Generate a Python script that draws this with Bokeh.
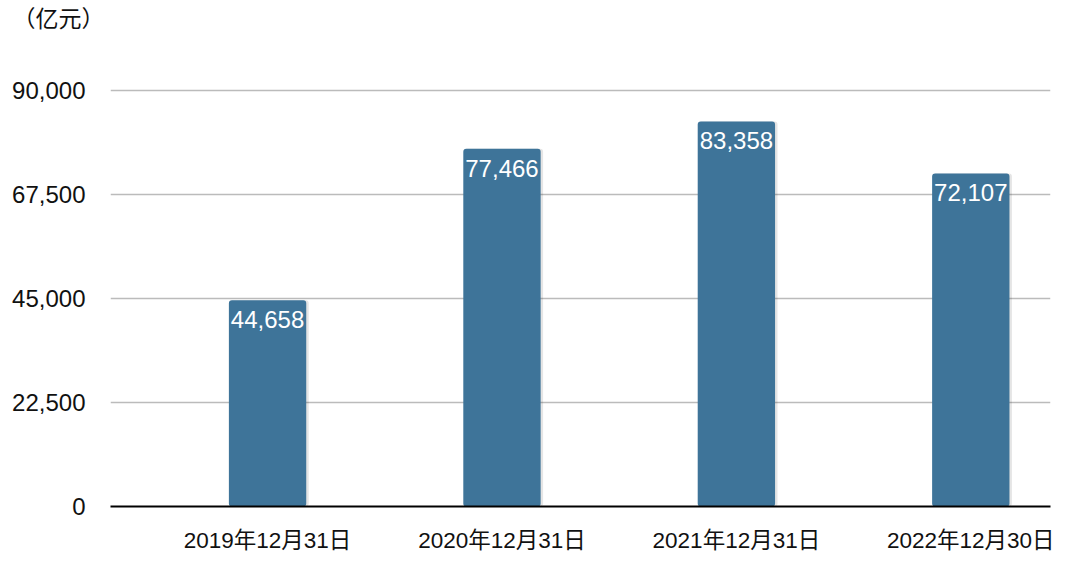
from bokeh.plotting import figure
from bokeh.models import ColumnDataSource, Range1d, FixedTicker, NumeralTickFormatter, Title
from bokeh.core.properties import value
from bokeh.embed import file_html
from bokeh.resources import INLINE

categories = ["2019年12月31日", "2020年12月31日", "2021年12月31日", "2022年12月30日"]
values = [44658, 77466, 83358, 72107]
labels = ["44,658", "77,466", "83,358", "72,107"]
y_ticks = [0, 22500, 45000, 67500, 90000]
unit_label = "（亿元）"

# category slots on a numeric axis (slot centre = index + 0.5)
xpos = [i + 0.5 for i in range(len(categories))]

src = ColumnDataSource(dict(x=xpos, val=values, lab=labels))
shadow_src = ColumnDataSource(dict(x=[v + 0.008 for v in xpos], val=values))

p = figure(
    width=1080, height=565, title=None,
    x_range=Range1d(-0.17, 3.84),
    y_range=Range1d(0, 92000),
    output_backend="svg", toolbar_location=None,
    min_border_left=110, min_border_right=30, min_border_top=81, min_border_bottom=59,
)
p.outline_line_color = None
p.background_fill_color = "white"
p.border_fill_color = "white"

# spacer (nearest the frame), then the unit caption above it
p.add_layout(Title(text=" ", text_font_size="10px", standoff=37), "above")
p.add_layout(Title(text=unit_label, align="left", offset=-98, standoff=0,
                   vertical_align="bottom",
                   text_font="Liberation Sans, Noto Sans CJK SC", text_font_size="23px",
                   text_font_style="normal", text_color="#111111"), "above")

# shadow
p.vbar(x="x", top="val", width=0.335, source=shadow_src,
       fill_color="#000000", fill_alpha=0.10, line_color=None, border_radius=3)
p.vbar(x="x", top="val", width=0.33, source=src,
       fill_color="#3E7499", line_color=None, border_radius=3)

p.text(x="x", y="val", text="lab", source=src, text_align="center", text_baseline="top",
       y_offset=11, text_color="white", text_font=value("Liberation Sans"), text_font_size="24px")

p.yaxis.ticker = FixedTicker(ticks=y_ticks)
p.yaxis.formatter = NumeralTickFormatter(format="0,0")
p.yaxis.axis_line_color = None
p.yaxis.major_tick_line_color = None
p.yaxis.minor_tick_line_color = None
p.yaxis.major_tick_out = 0
p.yaxis.major_tick_in = 0
p.yaxis.major_label_text_font = "Liberation Sans"
p.yaxis.major_label_text_font_size = "24px"
p.yaxis.major_label_text_color = "#111111"
p.yaxis.major_label_standoff = 25

p.xaxis.ticker = FixedTicker(ticks=xpos, minor_ticks=[])
p.xaxis.major_label_overrides = {x: c for x, c in zip(xpos, categories)}
p.xaxis.axis_line_color = "black"
p.xaxis.axis_line_width = 2
p.xaxis.major_tick_line_color = None
p.xaxis.minor_tick_line_color = None
p.xaxis.major_tick_out = 0
p.xaxis.major_tick_in = 0
p.xaxis.major_label_text_font = "Liberation Sans, Noto Sans CJK SC"
p.xaxis.major_label_text_font_size = "22.5px"
p.xaxis.major_label_text_color = "#111111"
p.xaxis.major_label_standoff = 21

p.xgrid.grid_line_color = None
p.ygrid.ticker = FixedTicker(ticks=y_ticks[1:])
p.ygrid.grid_line_color = "#BBBBBB"
p.ygrid.grid_line_width = 1.5

open("out.html", "w").write(file_html(p, INLINE))
